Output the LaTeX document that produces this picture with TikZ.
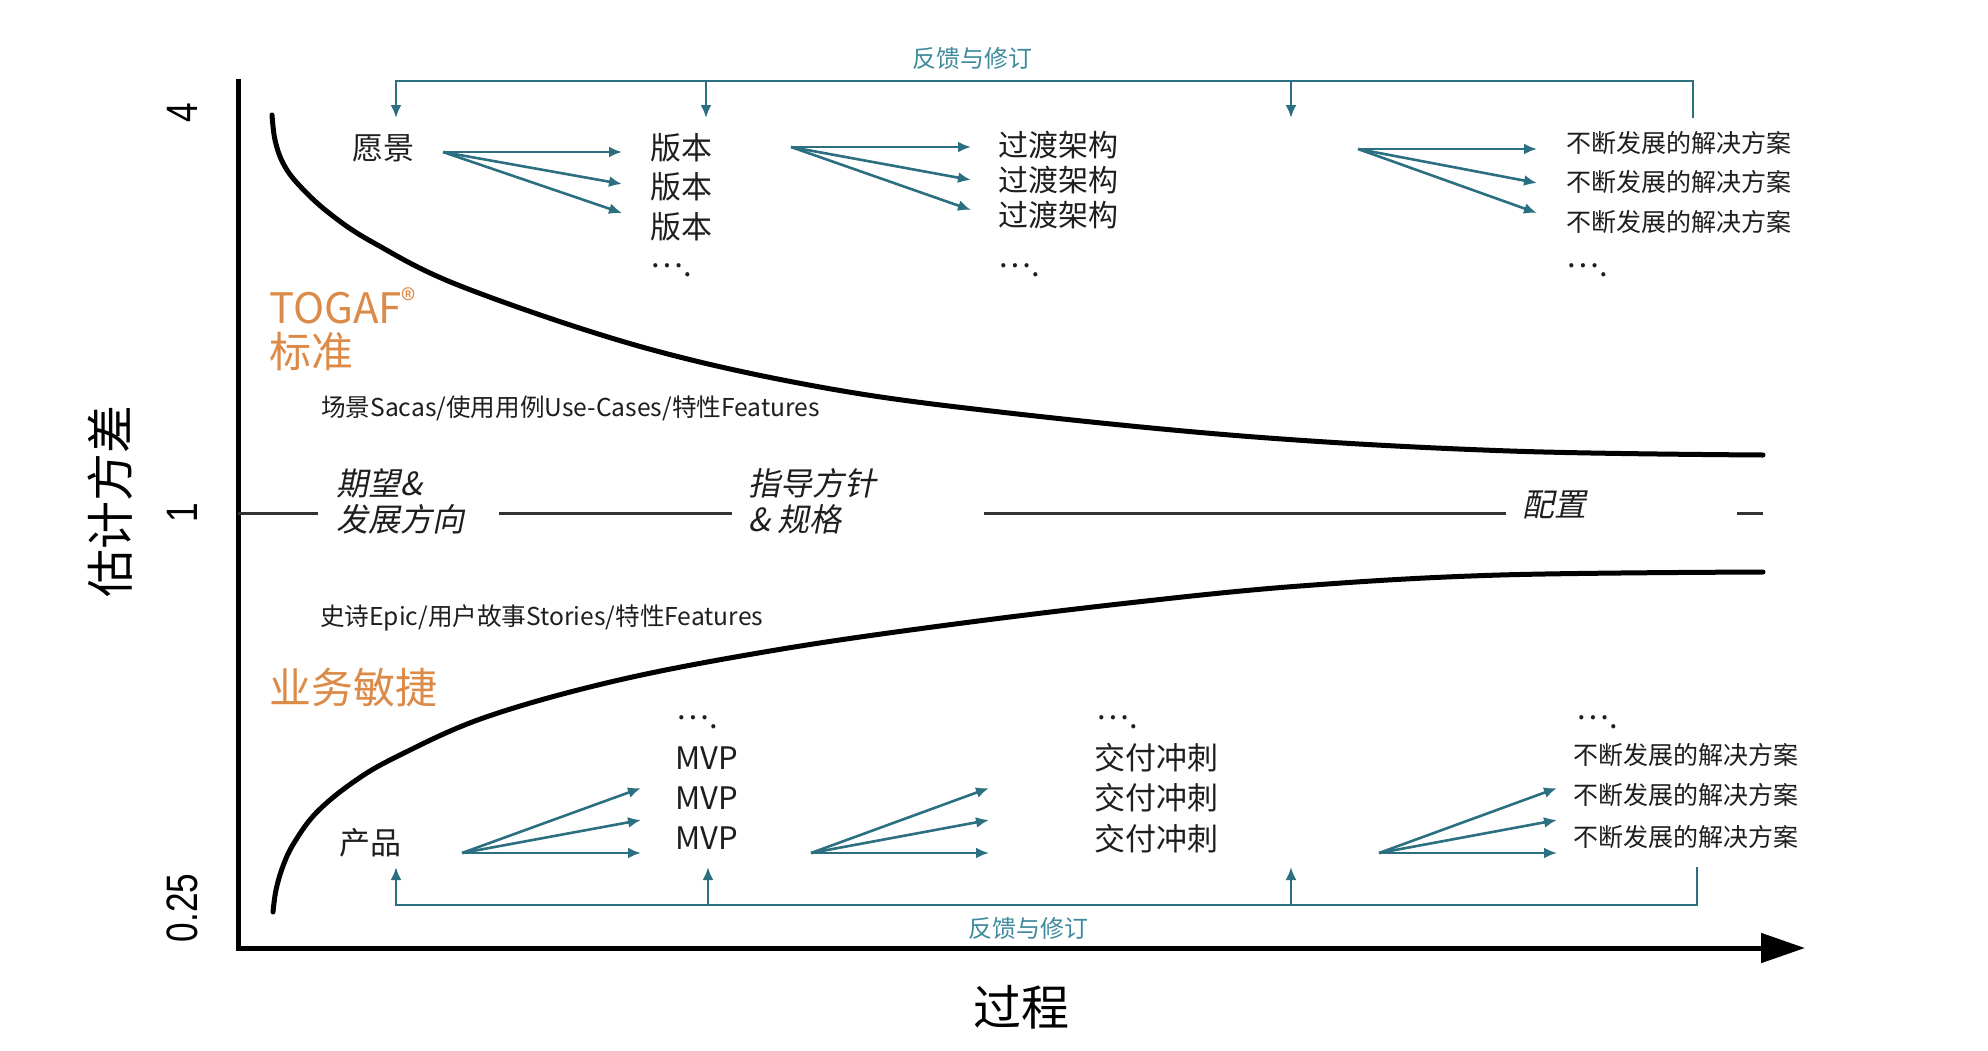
\documentclass[tikz,border=0pt]{standalone}
\usepackage{fontspec}
\setmainfont{Noto Sans CJK SC}
\newfontfamily\slantcjk[FakeSlant=0.2]{Noto Sans CJK SC}
\newfontfamily\tickfont[FakeStretch=0.8]{Liberation Sans}
\usetikzlibrary{positioning, arrows.meta, calc}

\definecolor{fbteal}{HTML}{2B6F80}
\definecolor{fblabel}{HTML}{3F8A9B}
\definecolor{togafor}{HTML}{DC8A48}
\definecolor{txtgray}{HTML}{1E1E1E}
\definecolor{midgray}{HTML}{333333}

\newcommand{\moredots}{\raisebox{0.3em}{…}.}

\begin{document}
\begin{tikzpicture}[
      x=1pt, y=-1pt,
      item/.style={
        anchor=west,
        inner sep=0pt,
        text=txtgray,
        font=\fontsize{31}{31}\selectfont
      },
      solitem/.style={
        item,
        font=\fontsize{25}{25}\selectfont
      },
      note/.style={
        item,
        font=\fontsize{24.6}{25}\selectfont
      },
      phase/.style={
        item,
        font=\slantcjk\fontsize{32}{36}\selectfont,
        align=left
      },
      brand/.style={
        item,
        text=togafor,
        font=\fontsize{42}{42}\selectfont
      },
      tick/.style={
        inner sep=0pt,
        rotate=90,
        font=\tickfont\fontsize{44}{44}\selectfont
      },
      fan/.style={
        -{Latex[length=13pt,width=11pt]},
        line width=2.6pt,
        draw=fbteal
      },
      fb/.style={
        line width=2.6pt,
        draw=fbteal
      },
      fbarrow/.style={
        fb,
        -{Latex[length=13pt,width=11pt]}
      },
      fblabel/.style={
        inner sep=0pt,
        text=fblabel,
        font=\fontsize{24}{24}\selectfont
      },
      curve/.style={
        line width=5pt,
        line cap=round
      },
      midline/.style={
        line width=3pt,
        draw=midgray
      },
      axis/.style={
        line width=5pt,
        -{Triangle[length=44pt,width=29pt]}
      }
    ]

    \useasboundingbox (0,0) rectangle (1988,1050);

    % axes
    \draw[axis] (238,79) |- (1805,948);
    \node[tick] (t4) at (182,113) {4};
    \node[tick] (t1) at (182,513) {1};
    \node[tick] (t025) at (182,908) {0.25};
    \node[inner sep=0pt, rotate=90, font=\fontsize{48}{48}\selectfont] (ylab) at (110,501) {估计方差};
    \node[inner sep=0pt, font=\fontsize{48}{48}\selectfont] (xlab) at (1021,1007) {过程};

    % envelope curves
    \draw[curve] plot[smooth, tension=0.6] coordinates {
      (272,115) (275,140) (283,163) (298,184) (329,213) (374,243) (463,287)
      (642,347) (820,387) (1000,412) (1255,437) (1510,451) (1763,455)};
    \draw[curve] plot[smooth, tension=0.6] coordinates {
      (273,912) (276,890) (283,866) (294,843) (316,813) (352,783) (396,757)
      (486,717) (619,680) (776,650) (940,626) (1128,603) (1300,586)
      (1500,575) (1763,572)};

    % middle line
    \draw[midline] (238,513) -- (318,513);
    \draw[midline] (499,513) -- (732,513);
    \draw[midline] (984,513) -- (1506,513);
    \draw[midline] (1737,513) -- (1763,513);
    \node[phase] (hope) at (336,501) {期望\&\\发展方向};
    \node[phase] (guide) at (748,501) {指导方针\\\& 规格};
    \node[phase] (deploy) at (1522,505) {配置};

    % labels
    \node[brand] (togaf) at (269,306) {TOGAF\raisebox{0.3em}{\fontsize{30}{30}\selectfont ®}};
    \node[brand] (std) at (269,352) {标准};
    \node[brand] (agile) at (269,688) {业务敏捷};
    \node[note] (scen) at (321,408) {场景Sacas/使用用例Use-Cases/特性Features};
    \node[note] (epic) at (320,618) {史诗Epic/用户故事Stories/特性Features};

    % top row
    \node[item, anchor=center] (vision) at (383,148) {愿景};
    \node[item] (ver1) at (650,148) {版本};
    \node[item] (ver2) at (650,187) {版本};
    \node[item] (ver3) at (650,227) {版本};
    \node[item] (verd) at (650,270) {\moredots};
    \node[item, font=\fontsize{30}{30}\selectfont] (tra1) at (998,145) {过渡架构};
    \node[item, font=\fontsize{30}{30}\selectfont] (tra2) at (998,180) {过渡架构};
    \node[item, font=\fontsize{30}{30}\selectfont] (tra3) at (998,215) {过渡架构};
    \node[item] (trad) at (998,270) {\moredots};
    \node[solitem] (sol1) at (1566,143) {不断发展的解决方案};
    \node[solitem] (sol2) at (1566,182) {不断发展的解决方案};
    \node[solitem] (sol3) at (1566,222) {不断发展的解决方案};
    \node[item] (sold) at (1566,270) {\moredots};

    \coordinate (fanA) at (443,152);
    \coordinate (fanB) at (791,147);
    \coordinate (fanC) at (1358,149);
    \draw[fan] (fanA) -- (622,152);
    \draw[fan] (fanA) -- (622,184);
    \draw[fan] (fanA) -- (622,213);
    \draw[fan] (fanB) -- (971,147);
    \draw[fan] (fanB) -- (971,180);
    \draw[fan] (fanB) -- (971,210);
    \draw[fan] (fanC) -- (1537,149);
    \draw[fan] (fanC) -- (1537,183);
    \draw[fan] (fanC) -- (1537,213);

    % top feedback
    \draw[fbarrow] (1693,118) |- (396,81) -- (396,118);
    \draw[fbarrow] (706,81) -- (706,118);
    \draw[fbarrow] (1291,81) -- (1291,118);
    \node[fblabel] (fbtop) at (972,58) {反馈与修订};

    % bottom row
    \node[item, anchor=center] (prod) at (370,843) {产品};
    \node[item] (mvpd) at (676,722) {\moredots};
    \node[item] (mvp1) at (675,758) {MVP};
    \node[item] (mvp2) at (675,798) {MVP};
    \node[item] (mvp3) at (675,838) {MVP};
    \node[item] (spd) at (1096,722) {\moredots};
    \node[item] (sp1) at (1094,758) {交付冲刺};
    \node[item] (sp2) at (1094,798) {交付冲刺};
    \node[item] (sp3) at (1094,839) {交付冲刺};
    \node[item] (bsd) at (1576,722) {\moredots};
    \node[solitem] (bsol1) at (1573,755) {不断发展的解决方案};
    \node[solitem] (bsol2) at (1573,795) {不断发展的解决方案};
    \node[solitem] (bsol3) at (1573,837) {不断发展的解决方案};

    \coordinate (fanD) at (462,853);
    \coordinate (fanE) at (811,853);
    \coordinate (fanF) at (1379,853);
    \draw[fan] (fanD) -- (641,788);
    \draw[fan] (fanD) -- (641,820);
    \draw[fan] (fanD) -- (641,853);
    \draw[fan] (fanE) -- (989,788);
    \draw[fan] (fanE) -- (989,820);
    \draw[fan] (fanE) -- (989,853);
    \draw[fan] (fanF) -- (1557,788);
    \draw[fan] (fanF) -- (1557,820);
    \draw[fan] (fanF) -- (1557,853);

    % bottom feedback
    \draw[fbarrow] (1697,867) |- (396,905) -- (396,867);
    \draw[fbarrow] (708,905) -- (708,867);
    \draw[fbarrow] (1291,905) -- (1291,867);
    \node[fblabel] (fbbot) at (1028,928) {反馈与修订};

    \end{tikzpicture}
\end{document}
